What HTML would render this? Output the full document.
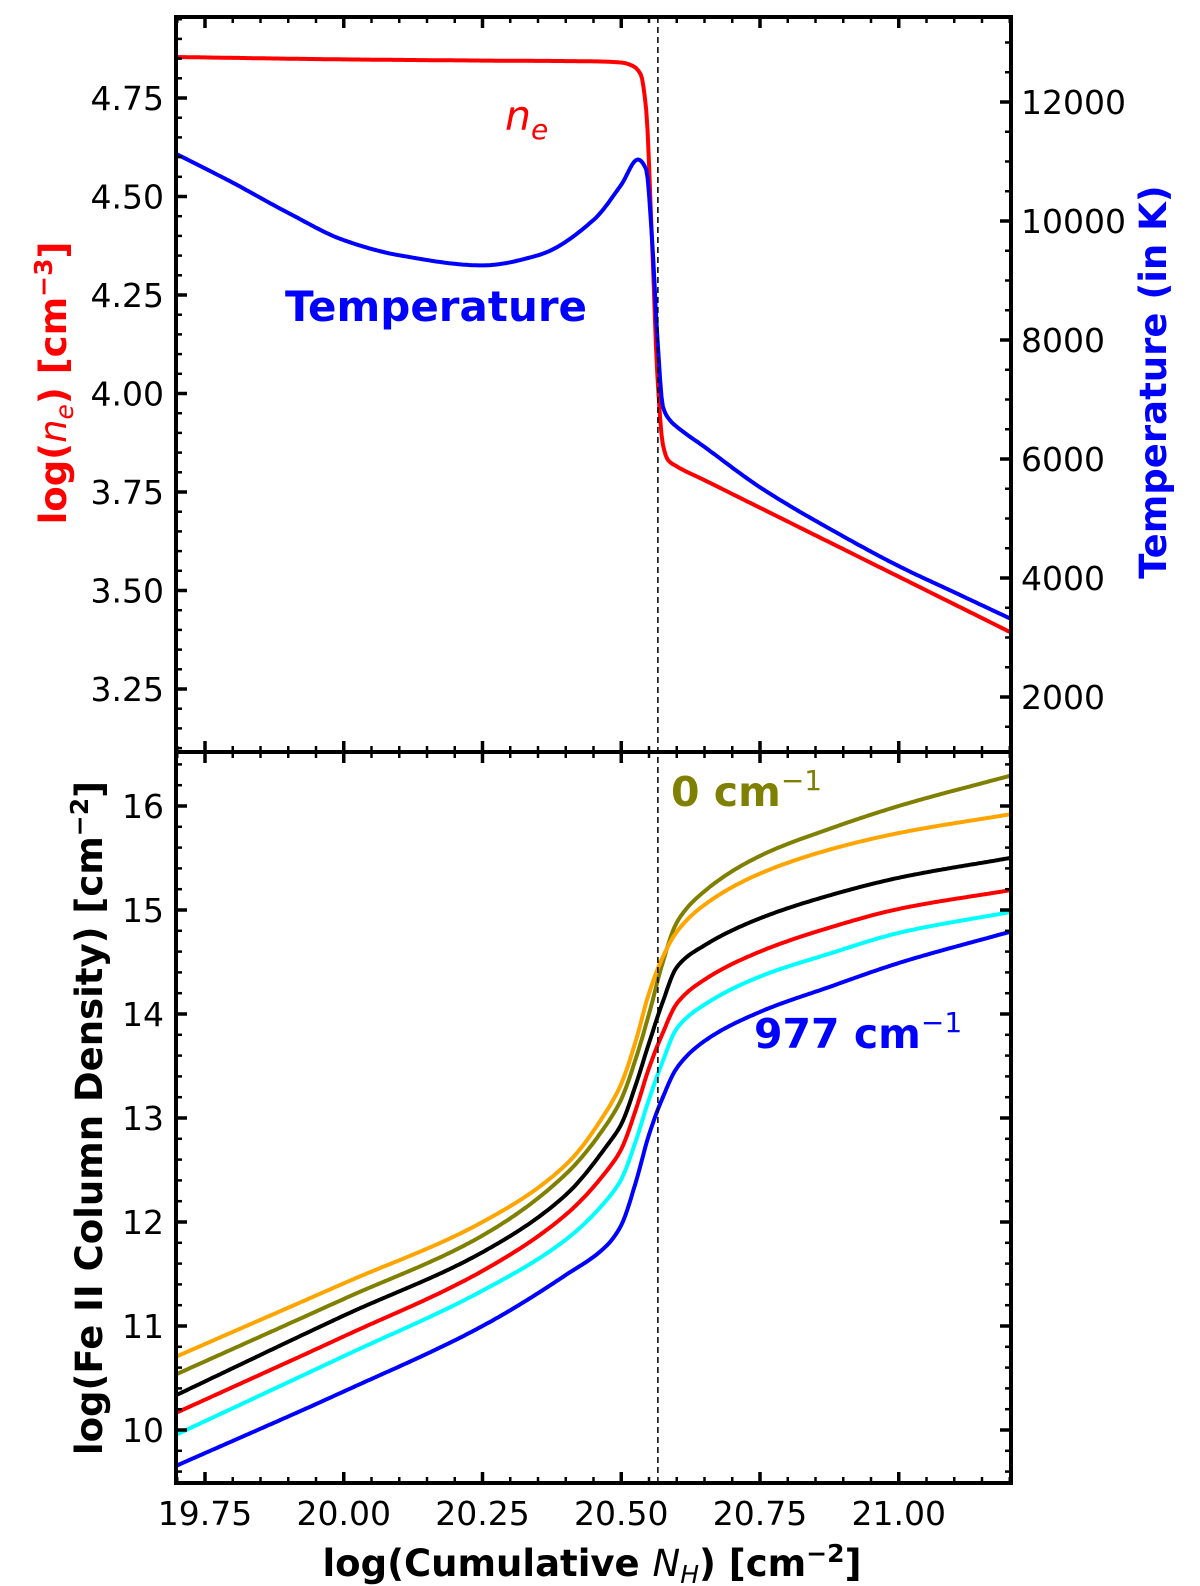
<!DOCTYPE html>
<html><head><meta charset="utf-8"><style>
html,body{margin:0;padding:0;background:#fff;}
svg{display:block;font-family:"DejaVu Sans","Liberation Sans",sans-serif;}
</style></head><body>
<svg id="chart" width="1200" height="1586" viewBox="0 0 1200 1586" xmlns="http://www.w3.org/2000/svg"></svg>
<script>
// ---- data ----
const neX = [19.70,20.00,20.25,20.45,20.50,20.52,20.535,20.545,20.555,20.565,20.575,20.585,20.60,20.65,20.75,20.85,21.00,21.10,21.20];
const neY = [4.854,4.848,4.845,4.843,4.840,4.832,4.81,4.72,4.40,4.05,3.87,3.83,3.815,3.78,3.71,3.64,3.535,3.465,3.395];
const tX = [19.70,19.80,19.90,20.00,20.10,20.25,20.35,20.45,20.50,20.53,20.545,20.555,20.565,20.575,20.59,20.60,20.65,20.75,20.90,21.00,21.10,21.20];
const tY = [11119,10644,10136,9678,9424,9254,9424,10017,10610,11034,10864,9763,8068,6881,6627,6542,6203,5525,4700,4200,3760,3322];
const feX = [19.70,20.00,20.25,20.40,20.475,20.50,20.525,20.55,20.575,20.60,20.65,20.75,20.875,21.00,21.20];
const feOrange = [10.71,11.41,12.00,12.55,13.08,13.33,13.72,14.20,14.55,14.79,15.05,15.35,15.58,15.74,15.92];
const feOlive  = [10.54,11.26,11.87,12.46,12.95,13.18,13.55,14.00,14.50,14.88,15.18,15.52,15.78,16.00,16.29];
const feBlack  = [10.34,11.10,11.71,12.26,12.74,12.94,13.30,13.72,14.12,14.45,14.66,14.92,15.14,15.31,15.50];
const feRed    = [10.17,10.90,11.53,12.07,12.50,12.70,13.06,13.48,13.82,14.10,14.33,14.60,14.83,15.01,15.19];
const feCyan   = [9.96,10.71,11.34,11.83,12.22,12.41,12.76,13.18,13.55,13.86,14.09,14.36,14.58,14.78,14.98];
const feBlue   = [9.66,10.37,11.00,11.49,11.78,11.97,12.36,12.84,13.20,13.48,13.74,14.02,14.26,14.49,14.79];
const xTicks = [19.75,20.00,20.25,20.50,20.75,21.00];
const xTickLabels = ["19.75","20.00","20.25","20.50","20.75","21.00"];
const neTicks = [3.25,3.50,3.75,4.00,4.25,4.50,4.75];
const tTicks = [2000,4000,6000,8000,10000,12000];
const feTicks = [10,11,12,13,14,15,16];
const dashX = 20.566;

// ---- geometry ----
const L=176,R=1011,T=17,M=752,B=1483;
const X = v => 205 + (v-19.75)*555;
const Yne = v => 98 + (4.75-v)*394;
const Yt = v => 697 - (v-2000)*119/2000;
const Yfe = v => 1430 - (v-10)*104;
const svg = document.getElementById('chart');
const NS='http://www.w3.org/2000/svg';
function mk(tag, attrs, parent){const e=document.createElementNS(NS,tag);for(const k in attrs)e.setAttribute(k,attrs[k]);(parent||svg).appendChild(e);return e;}

const defs=mk('defs',{});
const c1=mk('clipPath',{id:'c1'},defs);mk('rect',{x:L,y:T,width:R-L,height:M-T},c1);
const c2=mk('clipPath',{id:'c2'},defs);mk('rect',{x:L,y:M,width:R-L,height:B-M},c2);

function pathFrom(xs,ys,fy){
  const n=xs.length,d=[],m=new Array(n);
  for(let i=0;i<n-1;i++)d.push((ys[i+1]-ys[i])/(xs[i+1]-xs[i]));
  m[0]=d[0];m[n-1]=d[n-2];
  for(let i=1;i<n-1;i++){
    if(d[i-1]*d[i]<=0)m[i]=0;
    else{const h0=xs[i]-xs[i-1],h1=xs[i+1]-xs[i];const w1=2*h1+h0,w2=h1+2*h0;m[i]=(w1+w2)/(w1/d[i-1]+w2/d[i]);}
  }
  let s='';
  for(let i=0;i<n-1;i++){
    const h=xs[i+1]-xs[i],N=Math.max(4,Math.ceil(h*555/2));
    for(let k=(i===0?0:1);k<=N;k++){
      const t=k/N,t2=t*t,t3=t2*t;
      const y=(2*t3-3*t2+1)*ys[i]+(t3-2*t2+t)*h*m[i]+(-2*t3+3*t2)*ys[i+1]+(t3-t2)*h*m[i+1];
      const x=xs[i]+t*h;
      s+=(s?'L':'M')+X(x).toFixed(1)+','+fy(y).toFixed(1);
    }
  }
  return s;
}
function line(name,xs,ys,fy,color,clip){
  const e=mk('path',{d:pathFrom(xs,ys,fy),fill:'none',stroke:color,'stroke-width':4,'clip-path':`url(#${clip})`,'stroke-linejoin':'round'});
  
  
}
line('ne-line',neX,neY,Yne,'#ff0000','c1');
line('temperature-line',tX,tY,Yt,'#0000ff','c1');
line('fe-line-olive',feX,feOlive,Yfe,'#808000','c2');
line('fe-line-orange',feX,feOrange,Yfe,'#ffa500','c2');
line('fe-line-black',feX,feBlack,Yfe,'#000000','c2');
line('fe-line-red',feX,feRed,Yfe,'#ff0000','c2');
line('fe-line-cyan',feX,feCyan,Yfe,'#00ffff','c2');
line('fe-line-blue',feX,feBlue,Yfe,'#0000ff','c2');

const dl=mk('line',{x1:X(dashX),x2:X(dashX),y1:T,y2:B,stroke:'#000','stroke-width':1.5,'stroke-dasharray':'6,4'});



const tg=mk('g',{stroke:'#000','stroke-width':2.5});


function tk(x1,y1,x2,y2,w){mk('line',{x1,y1,x2,y2,'stroke-width':w},tg);}
for(let v=19.70;v<=21.2001;v+=0.05){
  const x=X(v); if(x<L||x>R)continue;
  const major=xTicks.some(t=>Math.abs(t-v)<1e-6);
  const len=major?11:6,w=major?3.5:2.5;
  tk(x,T,x,T+len,w);tk(x,M,x,M-len,w);tk(x,M,x,M+len,w);tk(x,B,x,B-len,w);
}
for(let v=3.10;v<=4.96;v+=0.05){
  const y=Yne(v);if(y<T||y>M)continue;
  const major=neTicks.some(t=>Math.abs(t-v)<1e-6);
  tk(L,y,L+(major?11:6),y,major?3.5:2.5);
}
for(let v=1500;v<=13400;v+=500){
  const y=Yt(v);if(y<T||y>M)continue;
  const major=v%2000===0;
  tk(R,y,R-(major?11:6),y,major?3.5:2.5);
}
for(let i=48;i<=82;i++){
  const v=i/5,y=Yfe(v);if(y<M||y>B)continue;
  const major=i%5===0;
  tk(L,y,L+(major?11:6),y,major?3.5:2.5);tk(R,y,R-(major?11:6),y,major?3.5:2.5);
}
const f1=mk('rect',{x:L,y:T,width:R-L,height:M-T,fill:'none',stroke:'#000','stroke-width':4});

const f2=mk('rect',{x:L,y:M,width:R-L,height:B-M,fill:'none',stroke:'#000','stroke-width':4});


function txt(name,s,x,y,attrs){const e=mk('text',Object.assign({x,y,'font-size':33,fill:'#000'},attrs||{}));e.textContent=s;return e;}
xTicks.forEach((v,i)=>txt('x-tick-label',xTickLabels[i],X(v),B+42,{'text-anchor':'middle'}));
neTicks.forEach(v=>txt('ne-tick-label',v.toFixed(2),L-12,Yne(v)+12,{'text-anchor':'end'}));
tTicks.forEach(v=>txt('temperature-tick-label',String(v),R+10,Yt(v)+12,{'text-anchor':'start'}));
feTicks.forEach(v=>txt('fe-tick-label',String(v),L-12,Yfe(v)+12,{'text-anchor':'end'}));
</script>
<svg style="position:absolute;left:0;top:0" width="1200" height="1586">
<g font-family="DejaVu Sans, Liberation Sans, sans-serif">
<text transform="translate(66,383) rotate(-90)" text-anchor="middle" font-size="37" font-weight="bold" fill="#ff0000">log(<tspan font-style="italic" font-weight="normal">n</tspan><tspan font-style="italic" font-weight="normal" font-size="25" dy="7">e</tspan><tspan dy="-7">) [cm</tspan><tspan font-size="25" dy="-14">−3</tspan><tspan dy="14">]</tspan></text>
<text transform="translate(1166,382) rotate(-90)" text-anchor="middle" font-size="37" font-weight="bold" fill="#0000ff">Temperature (in K)</text>
<text transform="translate(102,1118) rotate(-90)" text-anchor="middle" font-size="37" font-weight="bold" fill="#000">log(Fe II Column Density) [cm<tspan font-size="25" dy="-14">−2</tspan><tspan dy="14">]</tspan></text>
<text x="592" y="1576" text-anchor="middle" font-size="37" font-weight="bold" fill="#000">log(Cumulative <tspan font-style="italic" font-weight="normal">N</tspan><tspan font-style="italic" font-weight="normal" font-size="25" dy="7">H</tspan><tspan dy="-7">) [cm</tspan><tspan font-size="25" dy="-14">−2</tspan><tspan dy="14">]</tspan></text>
<text x="505" y="130" font-size="41" fill="#ff0000" font-style="italic">n<tspan font-size="28" dy="9">e</tspan></text>
<text x="436" y="321" text-anchor="middle" font-size="42" font-weight="bold" fill="#0000ff">Temperature</text>
<text x="671" y="806" font-size="41" font-weight="bold" fill="#808000">0 cm<tspan font-size="28" dy="-16" font-weight="normal">−1</tspan></text>
<text x="754" y="1048" font-size="41" font-weight="bold" fill="#0000ff">977 cm<tspan font-size="28" dy="-16" font-weight="normal">−1</tspan></text>
</g>
</svg>
</body></html>
